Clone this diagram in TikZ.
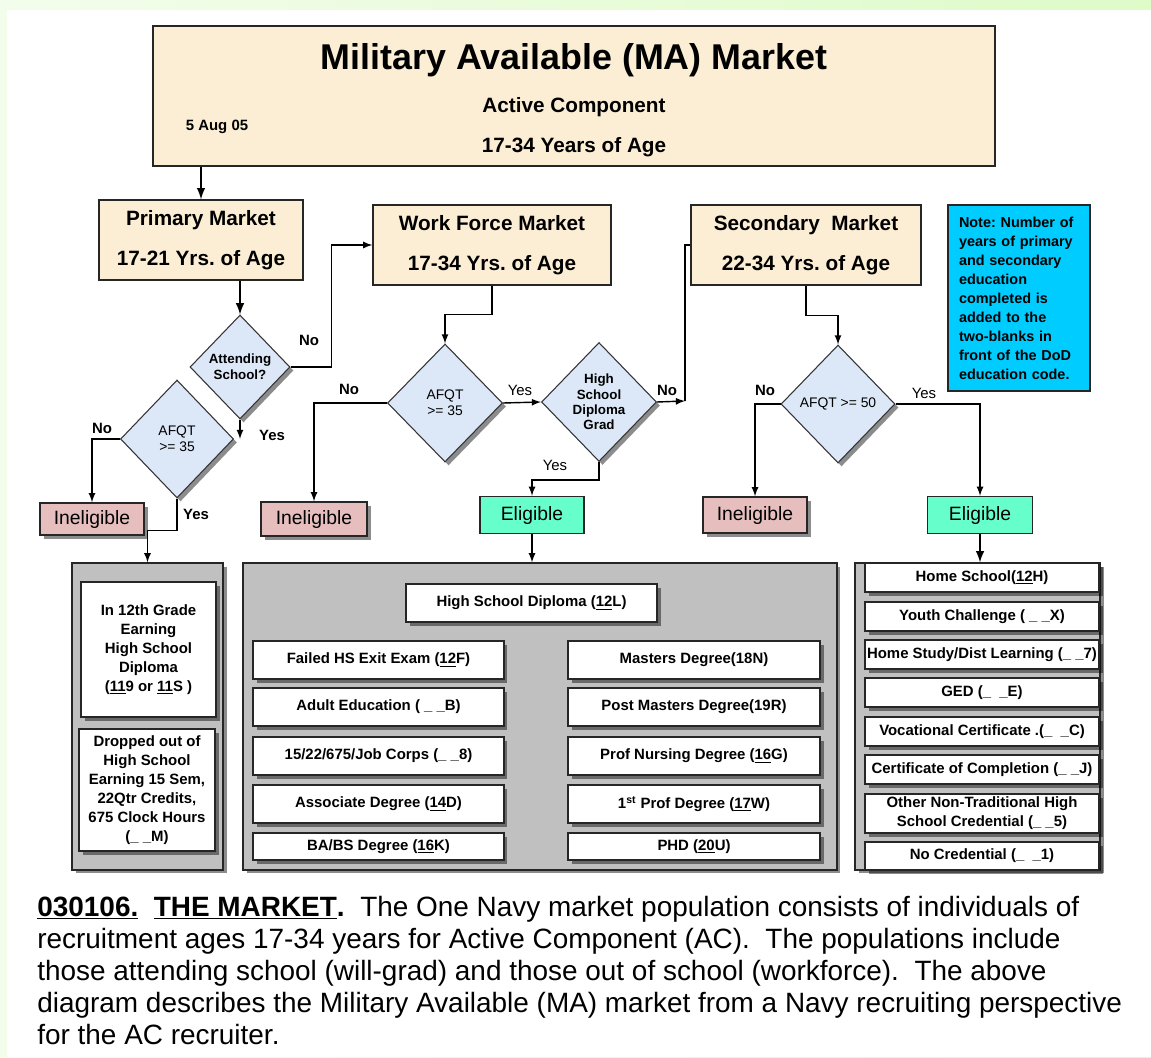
\documentclass[tikz,border=0pt]{standalone}
\usepackage{fontspec}
\setmainfont{Liberation Sans}
\usetikzlibrary{shapes.geometric,shadows}
\frenchspacing

\definecolor{paper}{RGB}{251,238,212}
\definecolor{askblue}{RGB}{220,232,248}
\definecolor{nopink}{RGB}{230,190,190}
\definecolor{okgreen}{RGB}{102,255,204}
\definecolor{notecyan}{RGB}{0,204,255}
\definecolor{listgrey}{RGB}{192,192,192}
\definecolor{edgeA}{RGB}{243,253,236}
\definecolor{edgeB}{RGB}{222,251,200}

\tikzset{
  boxshadow/.style={drop shadow={shadow xshift=2pt,shadow yshift=-2pt,fill=black,opacity=.45}},
  market/.style={draw=black!85, line width=0.8pt, fill=paper, align=center, inner sep=0pt,
    font=\bfseries\fontsize{11.8}{22.8}\selectfont},
  ask/.style={diamond, draw=black!80, line width=0.6pt, fill=askblue, align=center, inner sep=0pt,
    font=\fontsize{7.9}{9.2}\selectfont, boxshadow},
  nogo/.style={draw=black!85, line width=0.8pt, fill=nopink, inner sep=0pt,
    font=\fontsize{11}{13}\selectfont, boxshadow},
  okgo/.style={draw=black!85, line width=0.8pt, fill=okgreen, inner sep=0pt,
    font=\fontsize{11}{13}\selectfont},
  panel/.style={draw=black!85, line width=0.8pt, fill=listgrey, boxshadow},
  item/.style={draw=black!85, line width=0.7pt, fill=white, align=center, inner sep=0pt,
    font=\bfseries\fontsize{8.5}{10.8}\selectfont, boxshadow},
  note/.style={draw=black!85, line width=0.8pt, fill=notecyan, minimum width=2.84cm,
    minimum height=3.72cm, text width=2.4cm, align=left, inner sep=0pt,
    font=\bfseries\fontsize{8.2}{10.8}\selectfont},
  lbl/.style={inner sep=0pt, font=\fontsize{8.5}{10}\selectfont},
  lblb/.style={inner sep=0pt, font=\bfseries\fontsize{8.5}{10}\selectfont},
  para/.style={anchor=base west, inner sep=0pt, font=\fontsize{15.9}{18.2}\selectfont}
}

\begin{document}
\begin{tikzpicture}[x=0.02cm,y=-0.02cm,>=latex]
\useasboundingbox (0,0) rectangle (1151,1057);
\shade[left color=edgeA,right color=edgeB] (0,0) rectangle (1151,1057);
\fill[white] (7,10) rectangle (1151,1057);

% title block
\node[market, minimum width=16.84cm, minimum height=2.8cm] (title) at (574,96) {};
\node[font=\bfseries\fontsize{20.4}{24}\selectfont] (titleA) at (574,60) {Military Available (MA) Market};
\node[font=\bfseries\fontsize{11.8}{14}\selectfont] (titleB) at (574,107) {Active Component};
\node[font=\bfseries\fontsize{11.8}{14}\selectfont] (titleC) at (574,147) {17-34 Years of Age};
\node[font=\bfseries\fontsize{8.5}{10}\selectfont] (date) at (217,127) {5 Aug 05};

% markets
\node[market, minimum width=4.08cm, minimum height=1.6cm] (primary) at (201,240) {Primary Market\\17-21 Yrs. of Age};
\node[market, minimum width=4.76cm, minimum height=1.6cm] (workforce) at (492,245) {Work Force Market\\17-34 Yrs. of Age};
\node[market, minimum width=4.6cm, minimum height=1.6cm] (secondary) at (806,245) {Secondary\ \ Market\\22-34 Yrs. of Age};
\node[note] (edunote) at (1019,298) {Note: Number of\\years of primary\\and secondary\\education\\completed is\\added to the\\two-blanks in\\front of the DoD\\education code.};

% decisions
\node[ask, minimum width=2cm, minimum height=2.08cm, font=\bfseries\fontsize{7.6}{9.2}\selectfont] (attend) at (240,367) {Attending\\School?};
\node[ask, minimum width=2.26cm, minimum height=2.36cm] (afqtA) at (177,439) {AFQT\\>= 35};
\node[ask, minimum width=2.3cm, minimum height=2.36cm] (afqtB) at (445,403) {AFQT\\>= 35};
\node[ask, minimum width=2.3cm, minimum height=2.38cm, font=\bfseries\fontsize{7.6}{8.8}\selectfont] (hsd) at (599,402) {High\\School\\Diploma\\Grad};
\node[ask, minimum width=2.28cm, minimum height=2.36cm] (afqtC) at (838,404) {AFQT >= 50};

% outcomes
\node[nogo, minimum width=2.08cm, minimum height=0.64cm] (inelA) at (92,519) {Ineligible};
\node[nogo, minimum width=2.12cm, minimum height=0.68cm] (inelB) at (314,519) {Ineligible};
\node[nogo, minimum width=2.08cm, minimum height=0.72cm] (inelC) at (755,515) {Ineligible};
\node[okgo, minimum width=2.08cm, minimum height=0.74cm] (eligB) at (532,515) {Eligible};
\node[okgo, minimum width=2.1cm, minimum height=0.74cm] (eligC) at (980,515) {Eligible};

% education panels
\node[panel, minimum width=3.02cm, minimum height=6.14cm] (greyA) at (147.5,716.5) {};
\node[panel, minimum width=11.88cm, minimum height=6.14cm] (greyB) at (540,716.5) {};
\node[panel, minimum width=4.9cm, minimum height=6.14cm] (greyC) at (977.5,716.5) {};

\node[item, minimum width=2.7cm, minimum height=2.7cm] (grade12) at (148.5,649.5) {In 12th Grade\\Earning\\High School\\Diploma\\(\underline{11}9 or \underline{11}S )};
\node[item, minimum width=2.72cm, minimum height=2.44cm] (dropout) at (147,790) {Dropped out of\\High School\\Earning 15 Sem,\\22Qtr Credits,\\675 Clock Hours\\(\_ \_M)};

\node[item, minimum width=5.02cm, minimum height=0.76cm] (hsDiploma) at (531.5,603) {High School Diploma (\underline{12}L)};
\node[item, minimum width=5.02cm, minimum height=0.76cm] (failed) at (378.5,660) {Failed HS Exit Exam (\underline{12}F)};
\node[item, minimum width=5.02cm, minimum height=0.76cm] (adult) at (378.5,707) {Adult Education ( \_ \_B)};
\node[item, minimum width=5.02cm, minimum height=0.76cm] (jobcorps) at (378.5,756) {15/22/675/Job Corps (\_ \_8)};
\node[item, minimum width=5.02cm, minimum height=0.76cm] (associate) at (378.5,804) {Associate Degree (\underline{14}D)};
\node[item, minimum width=5.02cm, minimum height=0.54cm] (babs) at (378.5,846.5) {BA/BS Degree (\underline{16}K)};
\node[item, minimum width=5.04cm, minimum height=0.76cm] (masters) at (694,660) {Masters Degree(18N)};
\node[item, minimum width=5.04cm, minimum height=0.76cm] (postmasters) at (694,707) {Post Masters Degree(19R)};
\node[item, minimum width=5.04cm, minimum height=0.76cm] (nursing) at (694,756) {Prof Nursing Degree (\underline{16}G)};
\node[item, minimum width=5.04cm, minimum height=0.76cm] (firstprof) at (694,804) {1\textsuperscript{st} Prof Degree (\underline{17}W)};
\node[item, minimum width=5.04cm, minimum height=0.54cm] (phd) at (694,846.5) {PHD (\underline{20}U)};

\node[item, minimum width=4.68cm, minimum height=0.58cm] (homeschool) at (982,577.5) {Home School(\underline{12}H)};
\node[item, minimum width=4.68cm, minimum height=0.58cm] (youth) at (982,616.5) {Youth Challenge ( \_ \_X)};
\node[item, minimum width=4.68cm, minimum height=0.58cm] (homestudy) at (982,654.5) {Home Study/Dist Learning (\_ \_7)};
\node[item, minimum width=4.68cm, minimum height=0.58cm, line width=1.3pt] (ged) at (982,692.5) {GED (\_ \ \_E)};
\node[item, minimum width=4.68cm, minimum height=0.58cm] (vocational) at (982,731.5) {Vocational Certificate .(\_ \ \_C)};
\node[item, minimum width=4.68cm, minimum height=0.58cm] (completion) at (982,769.5) {Certificate of Completion (\_ \_J)};
\node[item, minimum width=4.68cm, minimum height=0.78cm] (nontrad) at (982,813.5) {Other Non-Traditional High\\School Credential (\_ \_5)};
\node[item, minimum width=4.68cm, minimum height=0.56cm, line width=1.3pt] (nocred) at (982,856) {No Credential (\_ \ \_1)};

% connectors
\draw[very thick,->] (title.south -| primary.north) -- (primary.north);
\draw[very thick,->] (primary.south -| attend.north) -- (attend.north);
\draw[thick,->] (attend.east) -- ++(41,0) |- (workforce.west);
\draw[thick,->] (attend.south) -- (attend.south |- afqtA.east);
\draw[thick,->] (afqtA.west) -| (inelA.north);
\draw[thick,->] (afqtA.south) -- ++(0,32) -| (greyA.north);
\draw[thick,->] (workforce.south) -- ++(0,29) -| (afqtB.north);
\draw[thick,->] (afqtB.west) -| (inelB.north);
\draw[thick,->] (afqtB.east) -- (hsd.west);
\coordinate (hsdNo) at (685,401);
\draw[thick,->] (hsd.east) -- (hsdNo);
\draw[thick] (hsdNo) |- (secondary.west);
\draw[thick,->] (hsd.south) -- ++(0,18) -| (eligB.north);
\draw[thick,->] (eligB.south) -- (eligB.south |- greyB.north);
\draw[thick,->] (secondary.south) -- ++(0,30) -| (afqtC.north);
\draw[thick,->] (afqtC.west) -| (inelC.north);
\draw[thick,->] (afqtC.east) -| (eligC.north);
\draw[very thick,->] (eligC.south) -- (eligC.south |- greyC.north);

% branch labels
\node[lblb] (noAttend) at (309,340) {No};
\node[lblb] (yesAttend) at (272,435) {Yes};
\node[lblb] (noA) at (102,428) {No};
\node[lblb] (yesA) at (196,514) {Yes};
\node[lblb] (noB) at (349,389) {No};
\node[lbl] (yesB) at (520,390) {Yes};
\node[lblb] (noHsd) at (667,390) {No};
\node[lbl] (yesHsd) at (555,465) {Yes};
\node[lblb] (noC) at (765,390) {No};
\node[lbl] (yesC) at (924,393) {Yes};

% caption text
\node[para] (para1) at (37,916) {\underline{\textbf{030106.}}\ \ \underline{\textbf{THE MARKET}}\textbf{.}\ \ The One Navy market population consists of individuals of};
\node[para] (para2) at (37,948) {recruitment ages 17-34 years for Active Component (AC).\ \ The populations include};
\node[para] (para3) at (37,980) {those attending school (will-grad) and those out of school (workforce).\ \ The above};
\node[para] (para4) at (37,1012) {diagram describes the Military Available (MA) market from a Navy recruiting perspective};
\node[para] (para5) at (37,1044) {for the AC recruiter.};
\end{tikzpicture}
\end{document}
